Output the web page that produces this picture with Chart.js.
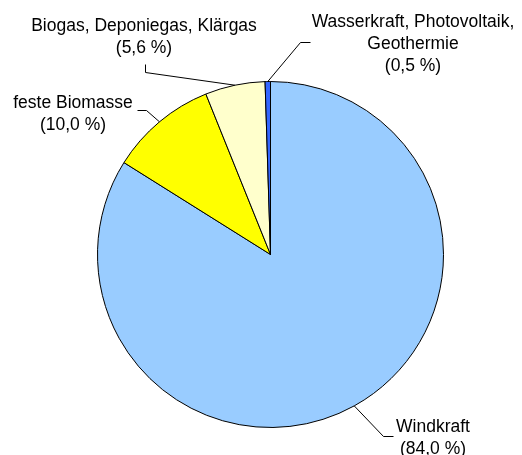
<!DOCTYPE html>
<html>
<head>
<meta charset="utf-8">
<script src="https://cdn.jsdelivr.net/npm/chart.js@4/dist/chart.umd.min.js"></script>
<style>
html,body{margin:0;padding:0;background:#fff;}
#wrap{width:522px;height:455px;position:relative;}
</style>
</head>
<body>
<div id="wrap"><canvas id="c" width="522" height="455"></canvas></div>
<script>
const categories = ["Windkraft", "feste Biomasse", "Biogas, Deponiegas, Klärgas", "Wasserkraft, Photovoltaik, Geothermie"];
const shares = [84.0, 10.0, 5.6, 0.5];
const labelLines = [
  ["Windkraft", "(84,0 %)"],
  ["feste Biomasse", "(10,0 %)"],
  ["Biogas, Deponiegas, Klärgas", "(5,6 %)"],
  ["Wasserkraft, Photovoltaik,", "Geothermie", "(0,5 %)"]
];
const colors = ["#99CCFF", "#FFFF00", "#FFFFCC", "#3366FF"];

// label layout (text center x, first baseline y, elbow points)
const labelLayout = [
  {x: 433, y: 432, elbow: [[383, 436], [393, 436]]},
  {x: 73, y: 108, elbow: [[146, 110], [137, 110]]},
  {x: 144, y: 31, elbow: [[145, 72], [145, 64]]},
  {x: 413, y: 27, elbow: [[300, 42], [310, 42]]}
];

const labelPlugin = {
  id: 'pieLabels',
  afterDatasetsDraw(chart) {
    const ctx = chart.ctx;
    const meta = chart.getDatasetMeta(0);
    ctx.save();
    ctx.strokeStyle = '#000';
    ctx.lineWidth = 1;
    ctx.fillStyle = '#000';
    ctx.font = '17.5px "Liberation Sans", Arial, sans-serif';
    ctx.textAlign = 'center';
    ctx.textBaseline = 'alphabetic';
    meta.data.forEach((arc, i) => {
      const p = arc.getProps(['x','y','startAngle','endAngle','outerRadius'], true);
      const mid = (p.startAngle + p.endAngle) / 2;
      const ax = p.x + Math.cos(mid) * p.outerRadius;
      const ay = p.y + Math.sin(mid) * p.outerRadius;
      const L = labelLayout[i];
      ctx.beginPath();
      ctx.moveTo(ax, ay);
      L.elbow.forEach(pt => ctx.lineTo(pt[0] + 0.5, pt[1] + 0.5));
      ctx.stroke();
      labelLines[i].forEach((t, k) => ctx.fillText(t, L.x, L.y + k * 22));
    });
    ctx.restore();
  }
};

new Chart(document.getElementById('c'), {
  type: 'pie',
  data: {
    labels: categories,
    datasets: [{
      data: shares,
      backgroundColor: colors,
      borderColor: '#000',
      borderWidth: 1
    }]
  },
  options: {
    responsive: false,
    animation: false,
    layout: {padding: {left: 97, right: 78, top: 81, bottom: 27}},
    plugins: {legend: {display: false}, tooltip: {enabled: false}},
    elements: {arc: {borderJoinStyle: 'miter'}}
  },
  plugins: [labelPlugin]
});
</script>
</body>
</html>
